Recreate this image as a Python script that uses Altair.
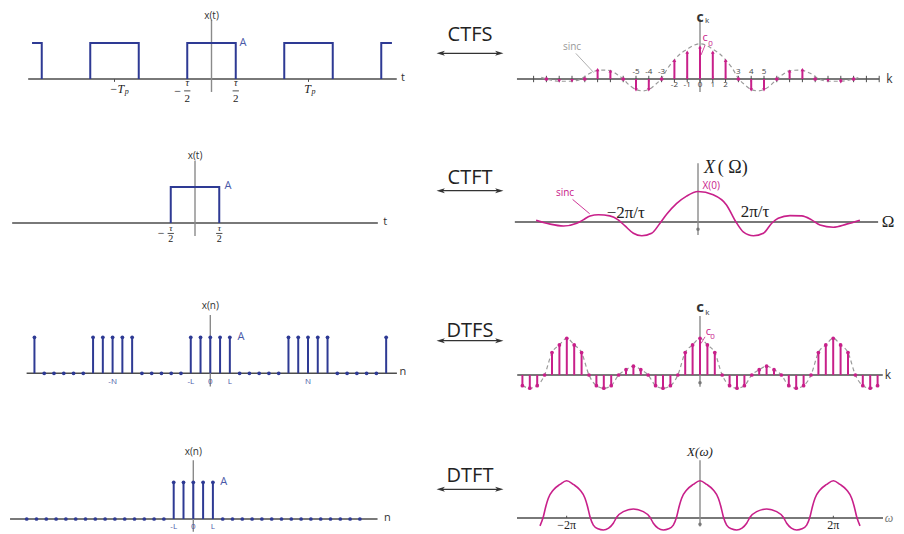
import altair as alt
import pandas as pd

# ---------------- data ----------------
# CTFS : periodic rectangular pulse (tau = 1, Tp = 2, amplitude A = 1)
ctfs_pulse_start = [-3.70, -2.50, -0.50, 1.50, 3.50]
ctfs_pulse_end = [-3.50, -1.50, 0.50, 2.50, 3.72]
ctfs_k = list(range(-12, 13))
ctfs_ck = [0.0, -0.06, -0.06, 0.0, 0.29, 0.25, 0.0, -0.34, -0.34, 0.0, 0.58, 0.84, 1.0,
           0.84, 0.58, 0.0, -0.34, -0.34, 0.0, 0.25, 0.29, 0.0, -0.05, -0.09, 0.0]
ctfs_env_k = [-12.4, -11.7, -11, -10, -9.3, -8.6, -7.8, -7, -6.5, -6, -5.5, -5, -4.5, -4, -3.5,
              -3, -2.5, -2, -1.5, -1, -0.5, 0, 0.5, 1, 1.5, 2, 2.5, 3, 3.5, 4, 4.5, 5, 5.5, 6,
              6.5, 7, 7.8, 8.6, 9.3, 10, 11, 11.7, 12.4]
ctfs_env_v = [0.05, -0.03, -0.07, -0.07, 0.0, 0.18, 0.28, 0.26, 0.15, 0.0, -0.2, -0.33, -0.37,
              -0.33, -0.18, 0.02, 0.35, 0.6, 0.8, 0.93, 1.05, 1.1, 1.05, 0.93, 0.8, 0.6, 0.35,
              0.02, -0.18, -0.33, -0.37, -0.33, -0.2, 0.0, 0.15, 0.26, 0.28, 0.18, 0.0, -0.07,
              -0.07, -0.03, 0.05]
ctfs_labels_above = [-5, -4, -3, 3, 4, 5]
ctfs_labels_below = [-2, -1, 0, 1, 2]

# CTFT : single pulse and its sinc-shaped spectrum (Omega in units of 2*pi/tau)
ctft_pulse_start = [-0.5]
ctft_pulse_end = [0.5]
ctft_w = [-4.26, -3.89, -3.54, -3.19, -3.02, -2.84, -2.62, -2.32, -2.1, -1.92, -1.7, -1.48,
          -1.22, -1.0, -0.82, -0.56, -0.3, 0.0, 0.4, 0.75, 1.0, 1.19, 1.46, 1.72, 1.94, 2.11,
          2.42, 2.73, 2.99, 3.21, 3.56, 3.91, 4.26]
ctft_X = [0.06, -0.07, -0.13, -0.04, 0.07, 0.2, 0.24, 0.2, 0.07, -0.13, -0.37, -0.45, -0.37,
          -0.04, 0.26, 0.61, 0.85, 1.0, 0.89, 0.56, 0.0, -0.32, -0.45, -0.37, -0.04, 0.12, 0.21,
          0.2, 0.07, -0.1, -0.17, -0.07, 0.06]

# DTFS : periodic pulse sequence (N = 10, L = 2) and its coefficients (period 18 in k)
dtfs_n = list(range(-18, 19))
dtfs_x = [1, 0, 0, 0, 0, 0, 1, 1, 1, 1, 1, 0, 0, 0, 0, 0, 1, 1, 1, 1, 1, 0, 0, 0, 0, 0,
          1, 1, 1, 1, 1, 0, 0, 0, 0, 0, 1]
dtfs_n_labels = ["-N", "-L", "0", "L", "N"]
dtfs_n_label_pos = [-10, -2, 0, 2, 10]
dtfs_k = list(range(-24, 25))
dtfs_ck = [-0.29, -0.36, -0.29, 0.0, 0.61, 0.82, 1.0, 0.82, 0.61, 0.0, -0.29, -0.36, -0.29,
           0.0, 0.145, 0.24, 0.145, 0.0, -0.29, -0.36, -0.29, 0.0, 0.61, 0.82, 1.0,
           0.82, 0.61, 0.0, -0.29, -0.36, -0.29, 0.0, 0.145, 0.24, 0.145, 0.0, -0.29, -0.36,
           -0.29, 0.0, 0.61, 0.82, 1.0, 0.82, 0.61, 0.0, -0.29, -0.36, -0.29]

# DTFT : finite pulse sequence (L = 2) and its periodic spectrum (omega in units of pi)
dtft_n = list(range(-17, 18))
dtft_x = [0] * 15 + [1, 1, 1, 1, 1] + [0] * 15
dtft_n_labels = ["-L", "0", "L"]
dtft_n_label_pos = [-2, 0, 2]
dtft_w = [-2.4, -2.35, -2.31, -2.275, -2.2, -2.1, -2.0, -1.9, -1.8, -1.725, -1.69, -1.65, -1.6,
          -1.53, -1.45, -1.37, -1.3, -1.25, -1.15, -1.0, -0.85, -0.75, -0.7, -0.63, -0.55,
          -0.47, -0.4, -0.35, -0.31, -0.275, -0.2, -0.1, 0.0, 0.1, 0.2, 0.275, 0.31, 0.35, 0.4,
          0.47, 0.55, 0.63, 0.7, 0.75, 0.85, 1.0, 1.15, 1.25, 1.3, 1.37, 1.45, 1.53, 1.6,
          1.65, 1.69, 1.725, 1.8, 1.9, 2.0, 2.1, 2.2, 2.275, 2.31, 2.35, 2.4]
dtft_X = [-0.21, 0.035, 0.33, 0.53, 0.75, 0.9, 1.0, 0.9, 0.75, 0.53, 0.33, 0.035, -0.19,
          -0.29, -0.32, -0.27, -0.14, 0.02, 0.17, 0.24, 0.17, 0.02, -0.14, -0.27, -0.32,
          -0.29, -0.19, 0.035, 0.33, 0.53, 0.75, 0.9, 1.0, 0.9, 0.75, 0.53, 0.33, 0.035, -0.19,
          -0.29, -0.32, -0.27, -0.14, 0.02, 0.17, 0.24, 0.17, 0.02, -0.14, -0.27, -0.32,
          -0.29, -0.19, 0.035, 0.33, 0.53, 0.75, 0.9, 1.0, 0.9, 0.75, 0.53, 0.33, 0.035, -0.21]

transforms = ["CTFS", "CTFT", "DTFS", "DTFT"]

# ---------------- styling / layout ----------------
BLUE = "#2e3a94"
BLUE_LBL = "#4a59a8"
PINK = "#c8208a"
AX_H = "#4d4d4d"
AX_V = "#8a8a8a"
SANS = "Open Sans"
SERIF = "Liberation Serif"
OX, OY = 8, 8


def xsc(zero, ppu):
    return alt.Scale(domain=[0, 1], range=[zero - OX, zero + ppu - OX], nice=False, zero=False)


def ysc(zero, ppu):
    return alt.Scale(domain=[0, 1], range=[zero - OY, zero - ppu - OY], nice=False, zero=False)


def panel(xz, xp, yz, yp):
    return {"x": xsc(xz, xp), "y": ysc(yz, yp)}


def enc(p):
    return dict(x=alt.X("x:Q", scale=p["x"], axis=None), y=alt.Y("y:Q", scale=p["y"], axis=None))


def texts(p, rows, **kw):
    df = pd.DataFrame(rows, columns=["x", "y", "t"])
    kw.setdefault("baseline", "middle")
    return alt.Chart(df).mark_text(**kw).encode(**enc(p), text="t:N")


def segs(p, rows, **kw):
    df = pd.DataFrame(rows, columns=["x", "y", "x2", "y2"])
    return alt.Chart(df).mark_rule(**kw).encode(**enc(p), x2="x2:Q", y2="y2:Q")


def curve(p, xs, ys, **kw):
    df = pd.DataFrame({"x": xs, "y": ys, "o": range(len(xs))})
    return alt.Chart(df).mark_line(**kw).encode(**enc(p), order="o:Q")


def pulses(p, starts, ends, color):
    rows = []
    for i, (s, e) in enumerate(zip(starts, ends)):
        pts = [(s, 0), (s, 1), (e, 1), (e, 0)]
        if i == 0 and len(starts) > 1:
            pts = pts[1:]
        if i == len(starts) - 1 and len(starts) > 1:
            pts = pts[:-1]
        for j, (x, y) in enumerate(pts):
            rows.append({"x": x, "y": y, "g": i, "o": j})
    df = pd.DataFrame(rows)
    return alt.Chart(df).mark_line(color=color, strokeWidth=2, strokeJoin="miter").encode(
        **enc(p), detail="g:N", order="o:Q")


def stems(p, xs, vs, color, size=16, tri=False, width=2.0):
    shapes = []
    for v in vs:
        if tri and v > 0:
            shapes.append("triangle-up")
        elif tri and v < 0:
            shapes.append("triangle-down")
        else:
            shapes.append("circle")
    df = pd.DataFrame({"x": xs, "y": vs, "z": [0] * len(xs), "s": shapes})
    r = alt.Chart(df).transform_filter("datum.y != 0").mark_rule(
        color=color, strokeWidth=width).encode(**enc(p), y2="z:Q")
    m = alt.Chart(df).mark_point(filled=True, color=color, opacity=1, size=size).encode(
        **enc(p), shape=alt.Shape("s:N", scale=None))
    return [r, m]


def axes(p, x0, x1, y0, y1):
    return [segs(p, [(x0, 0, x1, 0)], color=AX_H, strokeWidth=1.4),
            segs(p, [(0, y0, 0, y1)], color=AX_V, strokeWidth=1.4)]


def frac(p, x, y_tau, y_bar, y_two, half_w, neg=False, minus_x=None, tsize=10, nsize=11):
    out = [texts(p, [(x, y_tau, "τ")], font=SERIF, fontStyle="italic", fontSize=tsize, color="#222"),
           segs(p, [(x - half_w, y_bar, x + half_w, y_bar)], color="#222", strokeWidth=0.8),
           texts(p, [(x, y_two, "2")], font=SERIF, fontSize=nsize, color="#222")]
    if neg:
        out.append(texts(p, [(minus_x, y_bar, "−")], font=SERIF, fontSize=12, color="#222"))
    return out


layers = []

# ---------- row 1 : CTFS ----------
p = panel(211.5, 48.5, 79, 36)
layers += axes(p, -3.78, 3.82, 1.64, -0.36)
layers.append(pulses(p, ctfs_pulse_start, ctfs_pulse_end, BLUE))
layers.append(segs(p, [(-2, 0, -2, -0.08), (2, 0, 2, -0.08)], color=AX_H, strokeWidth=1))
layers.append(texts(p, [(0, 1.76, "x(t)")], font=SANS, fontSize=10, color="#333"))
layers.append(texts(p, [(0.65, 1.0, "A")], font=SANS, fontSize=11, color=BLUE_LBL))
layers.append(texts(p, [(3.95, 0.04, "t")], font=SANS, fontSize=11, color="#333"))
layers.append(texts(p, [(-1.8, -0.29, "−T")], font=SERIF, fontStyle="italic", fontSize=12,
                    align="right", color="#222"))
layers.append(texts(p, [(-1.79, -0.36, "p")], font=SERIF, fontStyle="italic", fontSize=8,
                    align="left", color="#222"))
layers.append(texts(p, [(2.05, -0.29, "T")], font=SERIF, fontStyle="italic", fontSize=12,
                    align="right", color="#222"))
layers.append(texts(p, [(2.06, -0.36, "p")], font=SERIF, fontStyle="italic", fontSize=8,
                    align="left", color="#222"))
layers += frac(p, -0.5, -0.12, -0.33, -0.56, 0.065, neg=True, minus_x=-0.7)
layers += frac(p, 0.5, -0.12, -0.33, -0.56, 0.065)

q = panel(700, 12.8, 79, 32)
layers += axes(q, -14.3, 14.0, 1.875, -0.41)
layers.append(segs(q, [(k, 0.1, k, -0.1) for k in range(-13, 15)], color=AX_H, strokeWidth=1))
layers.append(curve(q, ctfs_env_k, ctfs_env_v, color="#9a9a9a", strokeWidth=1.2,
                    strokeDash=[4, 3], interpolate="monotone"))
layers += stems(q, ctfs_k, ctfs_ck, PINK, size=14, tri=True)
layers.append(texts(q, [(k, 0.22, str(k)) for k in ctfs_labels_above], font=SANS, fontSize=8,
                    color="#444"))
layers.append(texts(q, [(k, -0.2, str(k)) for k in ctfs_labels_below], font=SANS, fontSize=8,
                    color="#444"))
layers.append(texts(q, [(0, 1.92, "c")], font=SANS, fontSize=14, fontWeight="bold", color="#333"))
layers.append(texts(q, [(0.55, 1.8, "k")], font=SANS, fontSize=8, color="#333"))
layers.append(texts(q, [(14.8, 0.0, "k")], font=SANS, fontSize=12, color="#333"))
layers.append(texts(q, [(-10.0, 0.99, "sinc")], font=SANS, fontSize=10, color="#9a9a9a"))
layers.append(segs(q, [(-9.7, 0.8, -8.3, 0.2)], color="#9a9a9a", strokeWidth=0.8))
layers.append(texts(q, [(0.4, 1.27, "c")], font=SANS, fontSize=11, color=PINK))
layers.append(texts(q, [(0.82, 1.09, "0")], font=SANS, fontSize=8, color=PINK))
layers.append(segs(q, [(0.4, 1.06, 0.08, 0.75)], color=PINK, strokeWidth=0.8))

# ---------- row 2 : CTFT ----------
p = panel(195, 48.5, 223, 36)
layers += axes(p, -3.77, 3.77, 1.72, -0.36)
layers.append(pulses(p, ctft_pulse_start, ctft_pulse_end, BLUE))
layers.append(texts(p, [(0, 1.86, "x(t)")], font=SANS, fontSize=10, color="#333"))
layers.append(texts(p, [(0.68, 1.03, "A")], font=SANS, fontSize=11, color=BLUE_LBL))
layers.append(texts(p, [(3.92, 0.04, "t")], font=SANS, fontSize=11, color="#333"))
layers += frac(p, -0.5, -0.14, -0.29, -0.44, 0.065, neg=True, minus_x=-0.7, tsize=9, nsize=10)
layers += frac(p, 0.5, -0.14, -0.29, -0.44, 0.065, tsize=9, nsize=10)

q = panel(698, 38, 222, 30.5)
layers += axes(q, -4.82, 4.74, 1.93, -0.43)
layers.append(curve(q, ctft_w, ctft_X, color=PINK, strokeWidth=1.6, interpolate="monotone"))
layers.append(alt.Chart(pd.DataFrame({"x": [0], "y": [-0.24]})).mark_point(
    filled=True, color="#777", opacity=1, size=12).encode(**enc(q)))
layers.append(texts(q, [(0.3, 1.78, "X")], font=SERIF, fontStyle="italic", fontSize=18,
                    color="#222", align="center"))
layers.append(texts(q, [(0.52, 1.78, "(   Ω)")], font=SERIF, fontSize=18, color="#222",
                    align="left"))
layers.append(texts(q, [(0.12, 1.17, "X(0)")], font=SANS, fontSize=10, color=PINK, align="left"))
layers.append(texts(q, [(-3.5, 0.96, "sinc")], font=SANS, fontSize=10, color=PINK))
layers.append(segs(q, [(-3.3, 0.74, -2.85, 0.27)], color=PINK, strokeWidth=0.9))
layers.append(texts(q, [(-1.9, 0.3, "−2π/τ")], font=SERIF, fontSize=17, color="#222"))
layers.append(texts(q, [(1.5, 0.33, "2π/τ")], font=SERIF, fontSize=17, color="#222"))
layers.append(texts(q, [(5.0, 0.0, "Ω")], font=SERIF, fontSize=17, color="#222"))

# ---------- row 3 : DTFS ----------
p = panel(210.3, 9.77, 373.3, 36)
layers += axes(p, -18.8, 19.1, 1.62, -0.37)
layers += stems(p, dtfs_n, dtfs_x, BLUE, size=14)
layers.append(texts(p, list(zip(dtfs_n_label_pos, [-0.24] * 5, dtfs_n_labels)), font=SANS,
                    fontSize=8, color=BLUE_LBL))
layers.append(texts(p, [(3.15, 1.0, "A")], font=SANS, fontSize=11, color=BLUE_LBL))
layers.append(texts(p, [(0, 1.87, "x(n)")], font=SANS, fontSize=10, color="#333"))
layers.append(texts(p, [(19.7, 0.03, "n")], font=SANS, fontSize=11, color="#333"))

q = panel(700, 7.4, 375, 36.7)
layers += axes(q, -24.7, 24.7, 1.61, -0.32)
layers.append(curve(q, dtfs_k, dtfs_ck, color="#9a9a9a", strokeWidth=1.2, strokeDash=[4, 3],
                    interpolate="monotone"))
layers += stems(q, dtfs_k, dtfs_ck, PINK, size=14)
layers.append(alt.Chart(pd.DataFrame({"x": [0], "y": [-0.21]})).mark_point(
    filled=True, color="#777", opacity=1, size=12).encode(**enc(q)))
layers.append(texts(q, [(0, 1.84, "c")], font=SANS, fontSize=15, fontWeight="bold", color="#333"))
layers.append(texts(q, [(1.0, 1.68, "k")], font=SANS, fontSize=8, color="#333"))
layers.append(texts(q, [(25.4, 0.0, "k")], font=SANS, fontSize=12, color="#333"))
layers.append(texts(q, [(1.12, 1.18, "c")], font=SANS, fontSize=11, color=PINK))
layers.append(texts(q, [(1.7, 1.03, "0")], font=SANS, fontSize=8, color=PINK))
layers.append(segs(q, [(0.68, 1.04, 0.14, 0.86)], color=PINK, strokeWidth=0.8))

# ---------- row 4 : DTFT ----------
p = panel(193.3, 9.8, 519, 36.7)
layers += axes(p, -18.7, 18.8, 1.6, -0.35)
layers += stems(p, dtft_n, dtft_x, BLUE, size=14)
layers.append(texts(p, list(zip(dtft_n_label_pos, [-0.21] * 3, dtft_n_labels)), font=SANS,
                    fontSize=8, color=BLUE_LBL))
layers.append(texts(p, [(3.1, 1.0, "A")], font=SANS, fontSize=11, color=BLUE_LBL))
layers.append(texts(p, [(0, 1.83, "x(n)")], font=SANS, fontSize=10, color="#333"))
layers.append(texts(p, [(19.8, 0.03, "n")], font=SANS, fontSize=11, color="#333"))

q = panel(700, 66.67, 518, 37.3)
layers += axes(q, -2.745, 2.745, 1.55, -0.23)
layers.append(segs(q, [(-2, 0, -2, 0.06), (2, 0, 2, 0.06)], color=AX_H, strokeWidth=1))
layers.append(curve(q, dtft_w, dtft_X, color=PINK, strokeWidth=1.6, interpolate="monotone"))
layers.append(alt.Chart(pd.DataFrame({"x": [0], "y": [-0.17]})).mark_point(
    filled=True, color="#777", opacity=1, size=12).encode(**enc(q)))
layers.append(texts(q, [(0, 1.77, "X(ω)")], font=SERIF, fontStyle="italic", fontSize=13,
                    color="#222"))
layers.append(texts(q, [(-2, -0.19, "−2π"), (2, -0.19, "2π")], font=SERIF, fontSize=12,
                    color="#222"))
layers.append(texts(q, [(2.835, 0.0, "ω")], font=SERIF, fontStyle="italic", fontSize=12,
                    color="#777"))

# ---------- middle column : transform names with double arrows ----------
mid_text_y = [35, 178, 331, 476]
mid_arrow_y = [53.3, 190.7, 340.7, 489.3]
LEFT_HEAD = "M-1,0L1,-0.6L0.5,0L1,0.6Z"
RIGHT_HEAD = "M1,0L-1,-0.6L-0.5,0L-1,0.6Z"
for name, ty, ay in zip(transforms, mid_text_y, mid_arrow_y):
    m = panel(470, 33.3, ay, ay - ty)
    layers.append(texts(m, [(0, 1, name)], font=SANS, fontSize=20, color="#222"))
    layers.append(segs(m, [(-0.9, 0, 0.9, 0)], color="#333", strokeWidth=1.3))
    heads = pd.DataFrame({"x": [-0.88, 0.88], "y": [0, 0], "s": [LEFT_HEAD, RIGHT_HEAD]})
    layers.append(alt.Chart(heads).mark_point(filled=True, color="#333", opacity=1, size=70)
                  .encode(**enc(m), shape=alt.Shape("s:N", scale=None)))

chart = (
    alt.layer(*layers)
    .resolve_scale(x="independent", y="independent")
    .properties(width=888, height=526, padding=0,
                autosize=alt.AutoSizeParams(type="none"))
    .configure_view(strokeWidth=0)
)

chart.save("out.html", embed_options={"renderer": "svg", "actions": False})
